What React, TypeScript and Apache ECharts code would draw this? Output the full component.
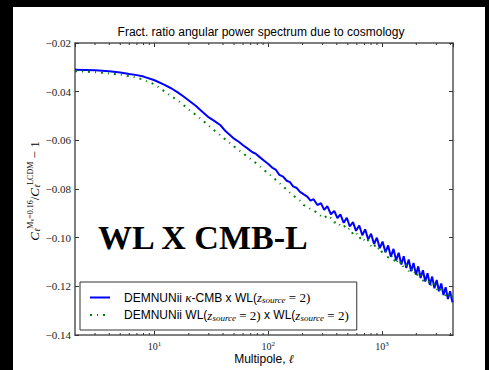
import React, { useEffect, useRef } from 'react';
import * as echarts from 'echarts';

const titleText = 'Fract. ratio angular power spectrum due to cosmology';
const blueName = 'DEMNUNii κ-CMB x WL(z_source = 2)';
const greenName = 'DEMNUNii WL(z_source = 2) x WL(z_source = 2)';
const annotation = 'WL X CMB-L';
const xAxisTitle = 'Multipole, ';

const ells = [
  2, 3, 4, 5, 6, 7, 8, 10, 12, 14, 16, 18, 20, 23, 26, 30, 34, 38, 42, 46, 50, 55, 60, 66, 72, 78, 84, 92, 100,
  108, 116, 125, 135, 145, 155, 165, 178, 190, 205, 220, 235, 250, 270, 290, 310, 330, 355, 380, 405, 430, 460,
  490, 520, 555, 590, 630, 670, 710, 755, 800, 850, 900, 955, 1010, 1070, 1130, 1195, 1260, 1330, 1400, 1475,
  1550, 1630, 1715, 1800, 1890, 1985, 2080, 2180, 2285, 2395, 2510, 2630, 2755, 2885, 3020, 3160, 3310, 3460,
  3620, 3790, 3960, 4150,
];

const blueVals = [
  -0.0310, -0.0312, -0.0316, -0.0321, -0.0327, -0.0332, -0.0338, -0.0353, -0.0370, -0.0386, -0.0403, -0.0420,
  -0.0436, -0.0458, -0.0480, -0.0506, -0.0522, -0.0538, -0.0562, -0.0578, -0.0593, -0.0606, -0.0620, -0.0634,
  -0.0648, -0.0656, -0.0669, -0.0684, -0.0697, -0.0712, -0.0720, -0.0742, -0.0749, -0.0766, -0.0772, -0.0789,
  -0.0796, -0.0812, -0.0822, -0.0831, -0.0848, -0.0842, -0.0866, -0.0858, -0.0886, -0.0870, -0.0904, -0.0890,
  -0.0920, -0.0904, -0.0939, -0.0918, -0.0954, -0.0936, -0.0972, -0.0950, -0.0990, -0.0966, -0.1007, -0.0984,
  -0.1026, -0.1000, -0.1043, -0.1016, -0.1060, -0.1032, -0.1078, -0.1046, -0.1094, -0.1062, -0.1110, -0.1076,
  -0.1124, -0.1090, -0.1138, -0.1104, -0.1152, -0.1118, -0.1166, -0.1134, -0.1180, -0.1146, -0.1194, -0.1160,
  -0.1208, -0.1174, -0.1220, -0.1188, -0.1236, -0.1204, -0.1252, -0.1220, -0.1266,
];

const greenVals = [
  -0.0316, -0.0320, -0.0325, -0.0330, -0.0336, -0.0343, -0.0351, -0.0370, -0.0396, -0.0418, -0.0436, -0.0455,
  -0.0474, -0.0495, -0.0515, -0.0540, -0.0562, -0.0580, -0.0597, -0.0611, -0.0625, -0.0640, -0.0654, -0.0668,
  -0.0681, -0.0694, -0.0706, -0.0722, -0.0737, -0.0749, -0.0762, -0.0775, -0.0790, -0.0802, -0.0815, -0.0824,
  -0.0840, -0.0848, -0.0866, -0.0872, -0.0883, -0.0889, -0.0898, -0.0911, -0.0906, -0.0924, -0.0919, -0.0938,
  -0.0934, -0.0952, -0.0948, -0.0968, -0.0962, -0.0986, -0.0978, -0.1004, -0.0995, -0.1020, -0.1010, -0.1036,
  -0.1026, -0.1050, -0.1040, -0.1066, -0.1055, -0.1082, -0.1070, -0.1098, -0.1084, -0.1112, -0.1098, -0.1126,
  -0.1112, -0.1138, -0.1124, -0.1150, -0.1136, -0.1162, -0.1152, -0.1178, -0.1164, -0.1190, -0.1176, -0.1204,
  -0.1190, -0.1214, -0.1202, -0.1226, -0.1214, -0.1238, -0.1226, -0.1250, -0.1238,
];

const minorTickVals = [3, 4, 5, 6, 7, 8, 9, 20, 30, 40, 50, 60, 70, 80, 90, 200, 300, 400, 500, 600, 700, 800, 900, 2000, 3000, 4000];

const X_MIN = 2;
const X_MAX = 4200;
const Y_MIN = -0.14;
const Y_MAX = -0.02;
const Y_STEP = 0.02;

const SANS = '"Liberation Sans", Arial, sans-serif';
const SERIF = '"Liberation Serif", "Times New Roman", serif';

export default function App() {
  const ref = useRef<HTMLDivElement>(null);

  useEffect(() => {
    if (!ref.current) return;
    const chart = echarts.init(ref.current, undefined, { renderer: 'svg' });

    const frameColor = '#555';
    const tickColor = '#333';

    const legendRich = {
      sp: { width: 9 },
      t: { fontFamily: SANS, fontSize: 12, color: '#000' },
      m: { fontFamily: SERIF, fontStyle: 'italic', fontSize: 13, color: '#000' },
      sub: { fontFamily: SERIF, fontStyle: 'italic', fontSize: 9, color: '#000', padding: [5, 0, 0, 0] },
      e: { fontFamily: SERIF, fontSize: 13, color: '#000' },
    };

    const xLabel = {
      show: true,
      showMinLabel: false,
      showMaxLabel: false,
      margin: 5,
      color: '#222',
      fontFamily: SERIF,
      fontSize: 10,
      formatter: (v: number) => '10{s|' + Math.round(Math.log10(v)) + '}',
      rich: {
        s: { fontFamily: SERIF, fontSize: 7, color: '#222', padding: [0, 0, 6, 0] },
      },
    };

    const option: any = {
      animation: false,
      backgroundColor: '#fff',
      title: {
        text: titleText,
        left: 261,
        textAlign: 'center',
        top: 26,
        padding: 0,
        textStyle: { fontFamily: SANS, fontSize: 12, fontWeight: 'normal', color: '#000' },
      },
      grid: { left: 75, right: 36, top: 43, bottom: 35 },
      legend: {
        data: [blueName, greenName],
        orient: 'vertical',
        left: 80,
        top: 282,
        padding: [9, 8, 8, 9],
        itemWidth: 20,
        itemHeight: 10,
        itemGap: 4,
        borderColor: '#333',
        borderWidth: 1,
        borderRadius: 0,
        backgroundColor: '#fff',
        itemStyle: { opacity: 0 },
        textStyle: { fontFamily: SANS, fontSize: 12, color: '#000', rich: legendRich },
        formatter: (name: string) =>
          name === blueName
            ? '{sp|}{t|DEMNUNii }{m|κ}{t|-CMB x WL(}{m|z}{sub|source}{e| = 2)}'
            : '{sp|}{t|DEMNUNii WL(}{m|z}{sub|source}{e| = 2)}{t| x WL(}{m|z}{sub|source}{e| = 2)}',
      },
      xAxis: [
        {
          type: 'log',
          logBase: 10,
          min: X_MIN,
          max: X_MAX,
          position: 'bottom',
          axisLine: { show: true, onZero: false, lineStyle: { color: frameColor, width: 1.5 } },
          axisTick: { show: true, inside: true, length: 4, lineStyle: { color: tickColor } },
          axisLabel: xLabel,
          splitLine: { show: false },
          minorTick: { show: false },
        },
        {
          type: 'log',
          logBase: 10,
          min: X_MIN,
          max: X_MAX,
          position: 'top',
          axisLine: { show: true, onZero: false, lineStyle: { color: frameColor, width: 1.5 } },
          axisTick: { show: true, inside: true, length: 4, lineStyle: { color: tickColor } },
          axisLabel: { show: false },
          splitLine: { show: false },
        },
      ],
      yAxis: [
        {
          type: 'value',
          min: Y_MIN,
          max: Y_MAX,
          interval: Y_STEP,
          position: 'left',
          axisLine: { show: true, onZero: false, lineStyle: { color: frameColor, width: 1.5 } },
          axisTick: { show: true, inside: true, length: 4, lineStyle: { color: tickColor } },
          axisLabel: {
            margin: 4,
            color: '#222',
            fontFamily: SERIF,
            fontSize: 11,
            formatter: (v: number) => (v < 0 ? '\u2212' : '') + Math.abs(v).toFixed(2),
          },
          splitLine: { show: false },
        },
        {
          type: 'value',
          min: Y_MIN,
          max: Y_MAX,
          interval: Y_STEP,
          position: 'right',
          axisLine: { show: true, onZero: false, lineStyle: { color: frameColor, width: 1.5 } },
          axisTick: { show: true, inside: true, length: 4, lineStyle: { color: tickColor } },
          axisLabel: { show: false },
          splitLine: { show: false },
        },
      ],
      series: [
        {
          name: blueName,
          type: 'line',
          xAxisIndex: 0,
          yAxisIndex: 0,
          data: ells.map((l, i) => [l, blueVals[i]]),
          symbol: 'none',
          showSymbol: false,
          lineStyle: { color: '#0000ff', width: 2 },
          itemStyle: { color: '#0000ff' },
          z: 3,
        },
        {
          name: greenName,
          type: 'line',
          xAxisIndex: 0,
          yAxisIndex: 0,
          data: ells.map((l, i) => [l, greenVals[i]]),
          symbol: 'none',
          showSymbol: false,
          lineStyle: { color: '#008000', width: 2, type: [2, 5, 1, 5] },
          itemStyle: { color: '#008000' },
          z: 4,
        },
        {
          type: 'custom',
          xAxisIndex: 0,
          yAxisIndex: 0,
          silent: true,
          clip: false,
          data: minorTickVals.map((v) => [v, Y_MIN]),
          renderItem: (params: any, api: any) => {
            const p = api.coord([api.value(0), api.value(1)]);
            const cs = params.coordSys;
            const bottom = cs.y + cs.height;
            return {
              type: 'group',
              children: [
                { type: 'line', shape: { x1: p[0], y1: bottom, x2: p[0], y2: bottom - 2 }, style: { stroke: tickColor, lineWidth: 1 } },
                { type: 'line', shape: { x1: p[0], y1: cs.y, x2: p[0], y2: cs.y + 2 }, style: { stroke: tickColor, lineWidth: 1 } },
              ],
            };
          },
          z: 5,
        },
      ],
      graphic: [
        {
          type: 'text',
          left: 98,
          top: 220,
          style: {
            text: annotation,
            fill: '#000',
            font: 'bold 34px "Liberation Serif", "Times New Roman", serif',
          },
          z: 10,
        },
        {
          type: 'text',
          x: 264,
          y: 359,
          style: {
            text: '{t|' + xAxisTitle + '}{m|ℓ}',
            align: 'center',
            textAlign: 'center',
            verticalAlign: 'middle',
            textVerticalAlign: 'middle',
            rich: {
              t: { fontFamily: SANS, fontSize: 12, fill: '#000', color: '#000' },
              m: { fontFamily: SERIF, fontStyle: 'italic', fontSize: 12, fill: '#000', color: '#000' },
            },
          },
        },
        {
          type: 'text',
          x: 34,
          y: 191,
          rotation: Math.PI / 2,
          style: {
            text: '{c|C}{sb|ℓ}{sp|M}{ssp|ν}{sp|=0.16}{n|/}{c|C}{sb|ℓ}{sp|LCDM}{n| \u2212 1}',
            align: 'center',
            textAlign: 'center',
            verticalAlign: 'middle',
            textVerticalAlign: 'middle',
            rich: {
              c: { fontFamily: SERIF, fontStyle: 'italic', fontSize: 13, color: '#222' },
              n: { fontFamily: SERIF, fontSize: 13, color: '#222' },
              sb: { fontFamily: SERIF, fontStyle: 'italic', fontSize: 8, color: '#222', padding: [6, 0, 0, 0] },
              sp: { fontFamily: SERIF, fontSize: 8, color: '#222', padding: [0, 0, 7, 0] },
              ssp: { fontFamily: SERIF, fontSize: 6, color: '#222', padding: [0, 0, 4, 0] },
            },
          },
        },
        { type: 'rect', left: 0, top: 0, shape: { width: 489, height: 7 }, style: { fill: '#000' }, z: 100 },
        { type: 'rect', left: 0, top: 0, shape: { width: 13, height: 370 }, style: { fill: '#000' }, z: 100 },
        { type: 'rect', left: 485, top: 0, shape: { width: 4, height: 370 }, style: { fill: '#000' }, z: 100 },
      ],
    };

    chart.setOption(option);
    return () => chart.dispose();
  }, []);

  return <div ref={ref} style={{ position: 'fixed', left: 0, top: 0, width: 489, height: 370 }} />;
}
